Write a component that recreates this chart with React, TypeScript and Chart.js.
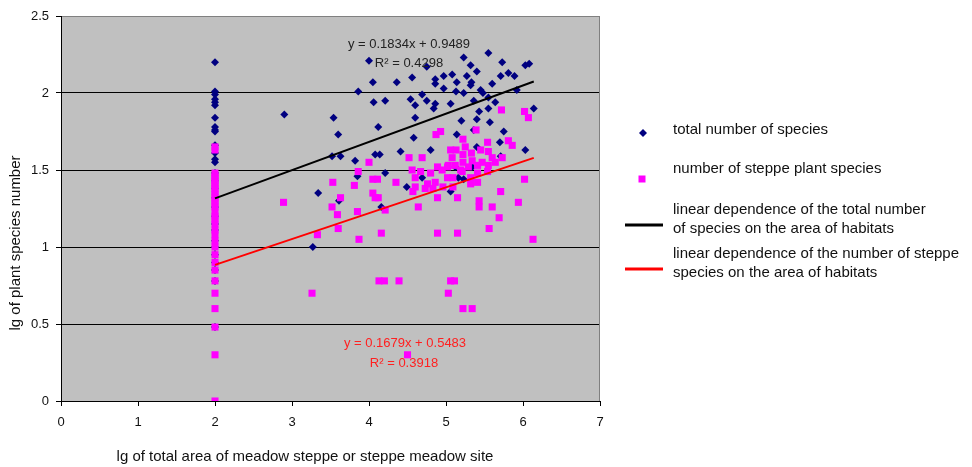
import { useEffect, useRef } from "react";
import { Chart, registerables } from "chart.js";

Chart.register(...registerables);

const FONT = '"Liberation Sans", Arial, sans-serif';

const xTickValues = [0, 1, 2, 3, 4, 5, 6, 7];
const yTickValues = [0, 0.5, 1, 1.5, 2, 2.5];

const xTitle = "lg of total area of meadow steppe or steppe meadow site";
const yTitle = "lg of plant species number";

const legendLabels: string[][] = [
  ["total number of species"],
  ["number of steppe plant species"],
  ["linear dependence of the total number", "of species on the area of habitats"],
  ["linear dependence of the number of steppe", "species on the area of habitats"],
];

const totalEquation = ["y = 0.1834x + 0.9489", "R² = 0.4298"];
const steppeEquation = ["y = 0.1679x + 0.5483", "R² = 0.3918"];

// total number of species (lg area, lg species)
const totalSpecies: [number, number][] = [
  [2, 2.2], [2, 2.01], [2, 1.99], [2, 1.96], [2, 1.94], [2, 1.92], [2, 1.84], [2, 1.78],
  [2, 1.76], [2, 1.75], [2, 1.66], [2, 1.61], [2, 1.57], [2, 1.55], [2, 1.48], [2, 1.43],
  [2, 1.38], [2, 1.32], [2, 1.26], [2, 1.2], [2, 1.15], [2, 1.11], [2, 1.04], [2, 1.0],
  [2, 0.95], [2, 0.9], [2, 0.85], [2, 0.78], [2, 0.48],
  [4.0, 2.21], [4.05, 2.07], [4.36, 2.07], [4.56, 2.1], [3.86, 2.01], [4.06, 1.94], [4.21, 1.95],
  [4.54, 1.96], [4.6, 1.92], [2.9, 1.86], [3.54, 1.84], [3.6, 1.73], [4.12, 1.78], [4.6, 1.84],
  [4.58, 1.71], [3.52, 1.59], [3.63, 1.59], [3.82, 1.56], [4.08, 1.6], [4.14, 1.6], [4.41, 1.62],
  [4.75, 2.17], [5.23, 2.23], [5.55, 2.26], [5.73, 2.2], [6.03, 2.18], [6.08, 2.19], [5.32, 2.18],
  [4.86, 2.09], [4.97, 2.11], [5.08, 2.12], [5.14, 2.07], [5.27, 2.11], [5.33, 2.07], [5.32, 2.05],
  [5.4, 2.14], [5.81, 2.13], [5.89, 2.11], [5.71, 2.11], [5.6, 2.06], [5.45, 2.02], [5.48, 2.0],
  [4.97, 2.03], [4.86, 2.06], [5.13, 2.01], [5.23, 2.0], [5.92, 2.02], [4.69, 1.99], [4.75, 1.95],
  [4.86, 1.93], [4.84, 1.9], [5.06, 1.93], [5.36, 1.95], [5.55, 1.97], [5.64, 1.94], [5.55, 1.9],
  [5.43, 1.88], [5.4, 1.83], [6.14, 1.9], [5.2, 1.82], [5.57, 1.81], [5.75, 1.75], [5.36, 1.76],
  [5.14, 1.73], [4.8, 1.63], [6.03, 1.63], [5.71, 1.59], [5.12, 1.52], [5.34, 1.52], [4.21, 1.48],
  [3.85, 1.46], [3.34, 1.35], [3.61, 1.3], [4.16, 1.26], [4.49, 1.39], [3.27, 1.0], [5.4, 1.65],
  [5.7, 1.68], [4.69, 1.45], [5.16, 1.45], [5.23, 1.44], [5.06, 1.36],
];

// number of steppe plant species
const steppeSpecies: [number, number][] = [
  [2, 1.65], [2, 1.63], [2, 1.48], [2, 1.46], [2, 1.45], [2, 1.43], [2, 1.41], [2, 1.4],
  [2, 1.38], [2, 1.36], [2, 1.34], [2, 1.32], [2, 1.3], [2, 1.28], [2, 1.26], [2, 1.23],
  [2, 1.2], [2, 1.18], [2, 1.15], [2, 1.11], [2, 1.08], [2, 1.04], [2, 1.0], [2, 0.95],
  [2, 0.9], [2, 0.85], [2, 0.78], [2, 0.7], [2, 0.6], [2, 0.48], [2, 0.3], [2, 0.0],
  [5.72, 1.89], [6.02, 1.88], [6.07, 1.84], [5.39, 1.76], [4.93, 1.75], [4.87, 1.73], [5.22, 1.7],
  [5.54, 1.68], [5.81, 1.69], [5.86, 1.66], [5.06, 1.63], [5.13, 1.63], [5.25, 1.65], [5.45, 1.63],
  [5.55, 1.62], [5.33, 1.61], [5.22, 1.6], [5.6, 1.58], [5.73, 1.58], [5.64, 1.55], [5.55, 1.53],
  [5.47, 1.55], [5.34, 1.56], [5.08, 1.58], [5.03, 1.53], [5.12, 1.53], [4.89, 1.52], [4.95, 1.5],
  [5.19, 1.5], [5.22, 1.55], [5.41, 1.53], [5.41, 1.48], [5.54, 1.49], [5.32, 1.45], [5.41, 1.42],
  [5.32, 1.41], [5.09, 1.45], [4.8, 1.48], [4.86, 1.42], [4.76, 1.41], [4.6, 1.45], [4.6, 1.39],
  [4.73, 1.38], [4.83, 1.38], [4.96, 1.39], [4.89, 1.32], [5.15, 1.32], [4.69, 1.58], [4.56, 1.5],
  [4.67, 1.49], [4.52, 1.58], [5.02, 1.52], [5.29, 1.52], [5.21, 1.49], [5.02, 1.45], [5.09, 1.39],
  [4.57, 1.36], [4.0, 1.55], [3.86, 1.49], [4.05, 1.44], [4.11, 1.44], [3.53, 1.42], [3.81, 1.4],
  [4.35, 1.42], [2.89, 1.29], [3.63, 1.32], [4.05, 1.35], [4.08, 1.32], [4.12, 1.32], [3.52, 1.26],
  [3.59, 1.21], [3.85, 1.23], [4.21, 1.24], [3.6, 1.12], [3.33, 1.08], [3.87, 1.05], [4.16, 1.09],
  [4.64, 1.26], [5.43, 1.3], [5.43, 1.26], [5.6, 1.26], [5.69, 1.19], [5.94, 1.29], [4.89, 1.09],
  [5.15, 1.09], [5.56, 1.12], [6.13, 1.05], [6.02, 1.44], [5.71, 1.36], [3.26, 0.7], [4.13, 0.78],
  [4.2, 0.78], [4.39, 0.78], [5.06, 0.78], [5.11, 0.78], [5.03, 0.7], [5.22, 0.6], [5.34, 0.6],
  [4.5, 0.3],
];

// trend line end points (from the fitted equations)
const totalTrend: [number, number][] = [[2, 1.316], [6.14, 2.075]];
const steppeTrend: [number, number][] = [[2, 0.884], [6.14, 1.579]];

const toXY = (arr: [number, number][]) => arr.map(([x, y]) => ({ x, y }));

const backgroundPlugin = {
  id: "plotBackground",
  beforeDraw(chart: any) {
    const { ctx, chartArea, width, height } = chart;
    ctx.save();
    ctx.fillStyle = "#ffffff";
    ctx.fillRect(0, 0, width, height);
    ctx.fillStyle = "#C0C0C0";
    ctx.fillRect(chartArea.left, chartArea.top, chartArea.right - chartArea.left, chartArea.bottom - chartArea.top);
    ctx.restore();
  },
  afterDraw(chart: any) {
    const { ctx, chartArea } = chart;
    ctx.save();
    ctx.strokeStyle = "#808080";
    ctx.lineWidth = 1;
    ctx.beginPath();
    ctx.moveTo(Math.round(chartArea.right) - 0.5, chartArea.top);
    ctx.lineTo(Math.round(chartArea.right) - 0.5, chartArea.bottom);
    ctx.stroke();
    ctx.restore();
  },
};

const textPlugin = {
  id: "texts",
  afterDraw(chart: any) {
    const ctx = chart.ctx as CanvasRenderingContext2D;
    ctx.save();
    ctx.textAlign = "center";
    ctx.textBaseline = "middle";
    ctx.font = `13px ${FONT}`;
    ctx.fillStyle = "#222222";
    ctx.fillText(totalEquation[0], 409, 44);
    ctx.fillText(totalEquation[1], 409, 63);
    ctx.fillStyle = "#ff2020";
    ctx.fillText(steppeEquation[0], 405, 343);
    ctx.fillText(steppeEquation[1], 404, 363);

    // axis titles
    ctx.font = `15px ${FONT}`;
    ctx.fillStyle = "#111111";
    ctx.fillText(xTitle, 305, 457);
    ctx.save();
    ctx.translate(16, 243);
    ctx.rotate(-Math.PI / 2);
    ctx.fillText(yTitle, 0, 0);
    ctx.restore();

    // legend
    ctx.textAlign = "left";
    const textX = 673;
    const lineYs = [[130], [169], [210, 229], [254, 273]];
    legendLabels.forEach((lines, i) => {
      lines.forEach((t, j) => ctx.fillText(t, textX, lineYs[i][j]));
    });
    // markers
    ctx.fillStyle = "#000080";
    ctx.beginPath();
    ctx.moveTo(643, 129);
    ctx.lineTo(647, 133);
    ctx.lineTo(643, 137);
    ctx.lineTo(639, 133);
    ctx.closePath();
    ctx.fill();
    ctx.fillStyle = "#FF00FF";
    ctx.fillRect(638.5, 175.5, 7, 7);
    ctx.lineWidth = 3;
    ctx.strokeStyle = "#000000";
    ctx.beginPath();
    ctx.moveTo(625, 225);
    ctx.lineTo(663, 225);
    ctx.stroke();
    ctx.strokeStyle = "#FF0000";
    ctx.beginPath();
    ctx.moveTo(625, 269);
    ctx.lineTo(663, 269);
    ctx.stroke();
    ctx.restore();
  },
};

export default function App() {
  const canvasRef = useRef<HTMLCanvasElement | null>(null);

  useEffect(() => {
    document.body.style.margin = "0";
    const canvas = canvasRef.current;
    if (!canvas) return;
    const chart = new Chart(canvas, {
      type: "scatter",
      data: {
        datasets: [
          {
            label: legendLabels[2].join(" "),
            data: toXY(totalTrend),
            showLine: true,
            borderColor: "#000000",
            borderWidth: 2,
            pointRadius: 0,
            order: 0,
          },
          {
            label: legendLabels[3].join(" "),
            data: toXY(steppeTrend),
            showLine: true,
            borderColor: "#FF0000",
            borderWidth: 2,
            pointRadius: 0,
            order: 1,
          },
          {
            label: legendLabels[1][0],
            data: toXY(steppeSpecies),
            pointStyle: "rect",
            pointRadius: 5,
            backgroundColor: "#FF00FF",
            borderWidth: 0,
            order: 2,
          },
          {
            label: legendLabels[0][0],
            data: toXY(totalSpecies),
            pointStyle: "rectRot",
            pointRadius: 4,
            backgroundColor: "#000080",
            borderWidth: 0,
            order: 3,
          },
        ],
      },
      options: {
        responsive: false,
        animation: false,
        layout: { padding: { left: 0, right: 372, top: 16, bottom: 0 } },
        plugins: {
          legend: { display: false },
          tooltip: { enabled: false },
        },
        scales: {
          x: {
            type: "linear",
            min: 0,
            max: 7,
            afterBuildTicks: (s: any) => {
              s.ticks = xTickValues.map((v) => ({ value: v }));
            },
            afterFit: (s: any) => {
              s.height = 66;
            },
            grid: {
              display: true,
              drawOnChartArea: false,
              drawTicks: true,
              tickLength: 5,
              color: "#000000",
            },
            border: { display: true, color: "#000000", width: 1 },
            ticks: {
              font: { family: FONT, size: 13 },
              color: "#111111",
              padding: 9,
              maxRotation: 0,
              autoSkip: false,
              callback: (v: any) => String(v),
            },
          },
          y: {
            type: "linear",
            min: 0,
            max: 2.5,
            afterBuildTicks: (s: any) => {
              s.ticks = yTickValues.map((v) => ({ value: v }));
            },
            afterFit: (s: any) => {
              s.width = 61;
            },
            grid: {
              color: (c: any) => (c.tick && c.tick.value === 2.5 ? "#808080" : "#000000"),
              tickColor: "#000000",
              tickLength: 5,
              lineWidth: 1,
            },
            border: { display: true, color: "#000000", width: 1 },
            ticks: {
              font: { family: FONT, size: 13 },
              color: "#111111",
              padding: 7,
              autoSkip: false,
              callback: (v: any) => String(v),
            },
          },
        },
      },
      plugins: [backgroundPlugin, textPlugin],
    });
    return () => chart.destroy();
  }, []);

  return (
    <div style={{ position: "absolute", left: 0, top: 0, width: 972, height: 467 }}>
      <canvas ref={canvasRef} width={972} height={467} />
    </div>
  );
}
